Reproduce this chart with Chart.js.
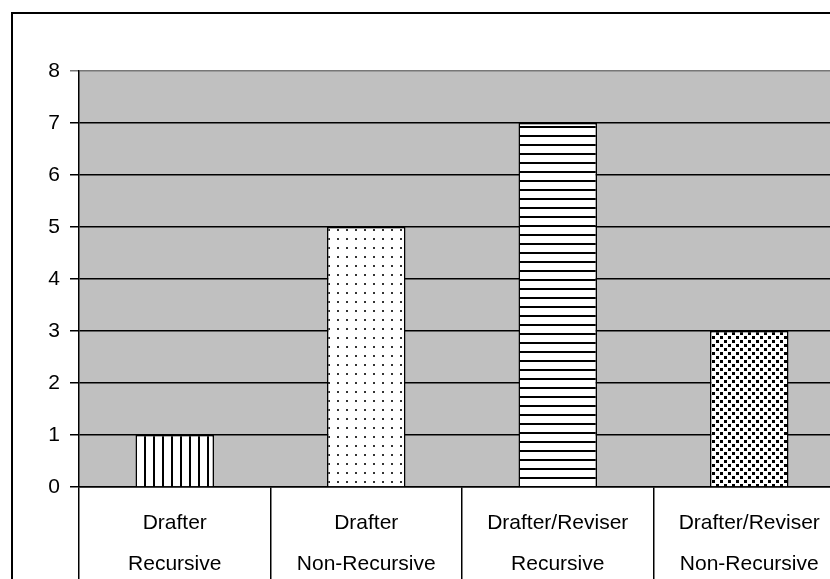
<!DOCTYPE html>
<html>
<head>
<meta charset="utf-8">
<script src="https://cdn.jsdelivr.net/npm/chart.js@4"></script>
<style>
  html, body { margin: 0; padding: 0; background: #fff; overflow: hidden; }
  .chart-container { position: relative; width: 860px; height: 579px; }
</style>
</head>
<body>
<div class="chart-container">
  <canvas id="chart"></canvas>
</div>
<script>
// chart data
var categories = [
    ['Drafter', 'Recursive'],
    ['Drafter', 'Non-Recursive'],
    ['Drafter/Reviser', 'Recursive'],
    ['Drafter/Reviser', 'Non-Recursive']
];
var counts = [1, 5, 7, 3];
var yTicks = [0, 1, 2, 3, 4, 5, 6, 7, 8];

function makePattern(size, draw) {
    var c = document.createElement('canvas');
    c.width = size;
    c.height = size;
    var g = c.getContext('2d');
    g.fillStyle = '#fff';
    g.fillRect(0, 0, size, size);
    g.fillStyle = '#000';
    draw(g);
    return document.getElementById('chart').getContext('2d').createPattern(c, 'repeat');
}

var patterns = [
    makePattern(9, function(g) { g.fillRect(0, 0, 2, 9); }),
    makePattern(9, function(g) { g.fillStyle = '#333'; g.fillRect(4, 4, 2, 2); }),
    makePattern(9, function(g) { g.fillRect(0, 0, 9, 2); }),
    makePattern(8, function(g) { g.fillRect(0, 0, 3, 3); g.fillRect(4, 4, 3, 3); })
];

var plotBackground = {
    id: 'plotBackground',
    beforeDraw: function(chart) {
        var ctx = chart.ctx, a = chart.chartArea;
        ctx.save();
        ctx.fillStyle = '#c0c0c0';
        ctx.fillRect(a.left, a.top, a.right - a.left, a.bottom - a.top);
        ctx.restore();
    },
    afterDraw: function(chart) {
        var ctx = chart.ctx;
        ctx.save();
        ctx.strokeStyle = '#000';
        ctx.lineWidth = 2;
        ctx.strokeRect(12, 13, 1000, 800);
        ctx.restore();
    }
};

new Chart(document.getElementById('chart'), {
    type: 'bar',
    data: {
        labels: categories,
        datasets: [{
            data: counts,
            backgroundColor: patterns,
            borderColor: '#000',
            borderWidth: 1.5,
            barPercentage: 0.41,
            categoryPercentage: 1
        }]
    },
    options: {
        responsive: true,
        maintainAspectRatio: false,
        animation: false,
        layout: { padding: { top: 71, right: 15, bottom: 0, left: 0 } },
        plugins: { legend: { display: false }, tooltip: { enabled: false } },
        scales: {
            x: {
                grid: {
                    offset: true,
                    drawOnChartArea: false,
                    color: '#000',
                    lineWidth: 1.5,
                    tickLength: 95
                },
                border: { color: '#000', width: 1.5 },
                ticks: {
                    color: '#000',
                    padding: -79,
                    font: { family: 'Liberation Sans, Arial, sans-serif', size: 21, lineHeight: 1.95 }
                },
                afterFit: function(scale) { scale.height = 92; }
            },
            y: {
                min: 0,
                max: 8,
                afterBuildTicks: function(scale) {
                    scale.ticks = yTicks.map(function(v) { return { value: v }; });
                },
                grid: {
                    color: function(c) { return c.tick && c.tick.value === 8 ? '#777' : '#000'; },
                    lineWidth: 1.5,
                    tickLength: 9
                },
                border: { color: '#000', width: 1.5 },
                ticks: {
                    color: '#000',
                    padding: 10,
                    font: { family: 'Liberation Sans, Arial, sans-serif', size: 21 }
                },
                afterFit: function(scale) { scale.width = 79; }
            }
        }
    },
    plugins: [plotBackground]
});
</script>
</body>
</html>
